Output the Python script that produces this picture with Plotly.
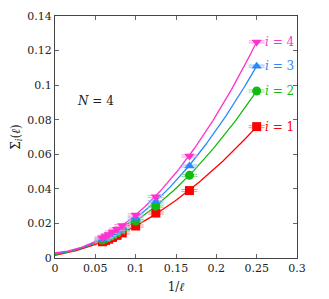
import numpy as np
import plotly.graph_objects as go

inv_l = [0.25, 1/6, 0.125, 0.1, 1/12, 1/13, 1/14, 1/15, 1/16, 1/17]
sigma1 = [0.0760, 0.0390, 0.0260, 0.0185, 0.0145, 0.0131, 0.0119, 0.0109, 0.0101, 0.0094]
sigma2 = [0.0966, 0.0478, 0.0300, 0.0214, 0.0165, 0.0147, 0.0134, 0.0122, 0.0112, 0.0104]
sigma3 = [0.1110, 0.0532, 0.0325, 0.0230, 0.0175, 0.0156, 0.0140, 0.0128, 0.0117, 0.0109]
sigma4 = [0.1250, 0.0590, 0.0355, 0.0249, 0.0188, 0.0167, 0.0150, 0.0136, 0.0125, 0.0116]
err = [0.0006] * 10

# quadratic fit coefficients (a, b, c): a + b x + c x^2
fit1 = [0.0015, 0.0847, 0.853]
fit2 = [0.0020, 0.0711, 1.229]
fit3 = [0.0025, 0.0523, 1.527]
fit4 = [0.0030, 0.0397, 1.793]

labels = ["i = 1", "i = 2", "i = 3", "i = 4"]
x_ticks = [0, 0.05, 0.1, 0.15, 0.2, 0.25, 0.3]
x_tick_text = ["0", "0.05", "0.1", "0.15", "0.2", "0.25", "0.3"]
y_ticks = [0, 0.02, 0.04, 0.06, 0.08, 0.1, 0.12, 0.14]
y_tick_text = ["0", "0.02", "0.04", "0.06", "0.08", "0.1", "0.12", "0.14"]

colors = ["#ff0000", "#11bb11", "#2a88ff", "#ff33cc"]
caps = ["#ff8888", "#88dd88", "#88bbff", "#ff99e0"]
symbols = ["square", "circle", "triangle-up", "triangle-down"]
series = [sigma1, sigma2, sigma3, sigma4]
fits = [fit1, fit2, fit3, fit4]

FONT = "DejaVu Serif, Liberation Serif, serif"
fig = go.Figure()
xf = np.linspace(0, 0.25, 120)
for k in range(4):
    a, b, c = fits[k]
    fig.add_trace(go.Scatter(x=xf, y=a + b * xf + c * xf ** 2, mode="lines",
                             line=dict(color=colors[k], width=1.3),
                             showlegend=False, hoverinfo="skip"))
for k in range(4):
    fig.add_trace(go.Scatter(x=inv_l, y=series[k], mode="markers",
                             marker=dict(symbol=symbols[k], size=9, color=colors[k]),
                             error_y=dict(type="data", array=err, color=caps[k],
                                          width=8, thickness=1),
                             showlegend=False))
    fig.add_annotation(x=0.258, y=series[k][0], xanchor="left", yanchor="middle",
                       text="<i>i</i> = %d" % (k + 1), showarrow=False,
                       font=dict(family=FONT, size=12, color=colors[k]))

fig.add_annotation(x=0.025, y=0.091, xanchor="left", yanchor="middle",
                   text="<i>N</i> = 4", showarrow=False,
                   font=dict(family=FONT, size=12, color="#222"))

axis_common = dict(showgrid=False, zeroline=False, showline=True, linecolor="#444",
                   linewidth=1, mirror="ticks", ticks="inside", ticklen=4,
                   tickcolor="#666", automargin=False,
                   tickfont=dict(family=FONT, size=11, color="#222"))
fig.update_xaxes(range=[0, 0.3], tickvals=x_ticks, ticktext=x_tick_text,
                 title=dict(text="1/<i>ℓ</i>", font=dict(family=FONT, size=12, color="#222"),
                            standoff=8), **axis_common)
fig.update_yaxes(range=[0, 0.14], tickvals=y_ticks, ticktext=y_tick_text,
                 title=dict(text="Σ<sub><i>i</i></sub>(<i>ℓ</i>)",
                            font=dict(family=FONT, size=12, color="#222"), standoff=4),
                 **axis_common)
fig.update_layout(width=329, height=299, margin=dict(l=47, r=40, t=8, b=49),
                  plot_bgcolor="white", paper_bgcolor="white")
fig.write_html("out.html")
